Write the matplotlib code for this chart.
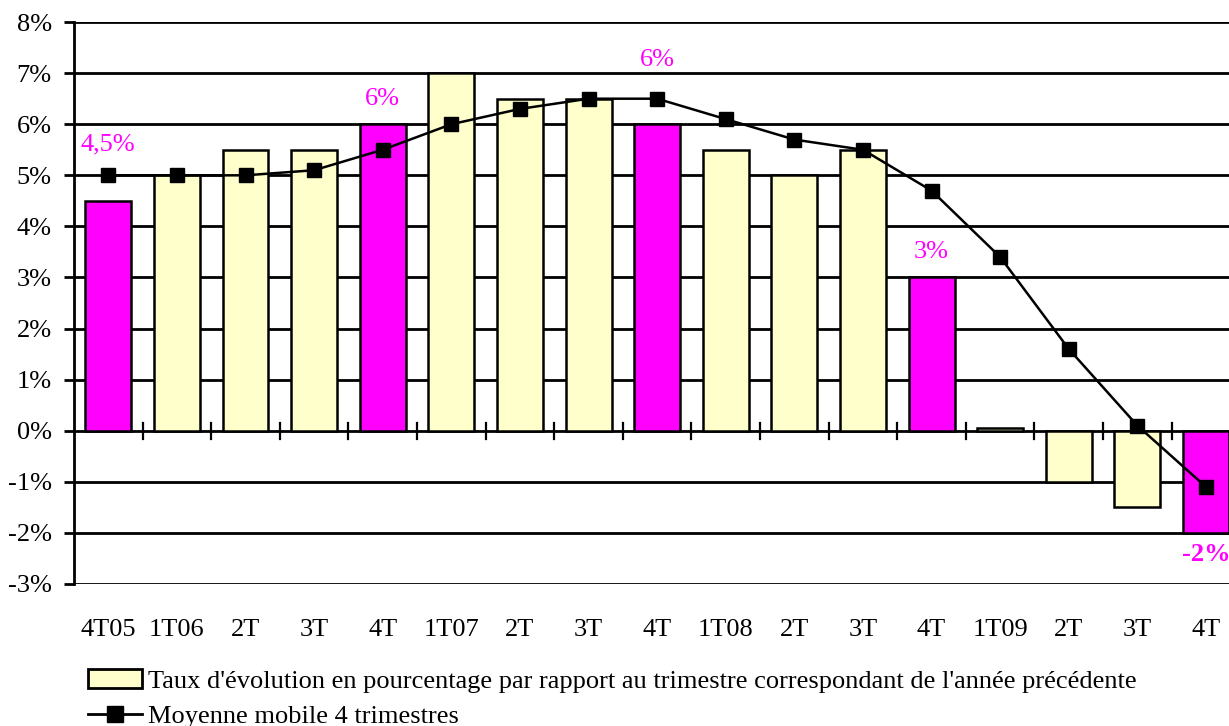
import numpy as np
import matplotlib
matplotlib.use('Agg')
import matplotlib.pyplot as plt
from matplotlib.patches import Patch
from matplotlib.lines import Line2D

plt.rcParams['font.family'] = ['Liberation Serif', 'DejaVu Serif']

# Données
trimestres = ['4T05', '1T06', '2T', '3T', '4T', '1T07', '2T', '3T', '4T',
              '1T08', '2T', '3T', '4T', '1T09', '2T', '3T', '4T']
taux = [4.5, 5.0, 5.5, 5.5, 6.0, 7.0, 6.5, 6.5, 6.0,
        5.5, 5.0, 5.5, 3.0, 0.05, -1.0, -1.5, -2.0]
moyenne = [5.0, 5.0, 5.0, 5.1, 5.5, 6.0, 6.3, 6.5, 6.5,
           6.1, 5.7, 5.5, 4.7, 3.4, 1.6, 0.1, -1.1]
etiquettes = {0: '4,5%', 4: '6%', 8: '6%', 12: '3%', 16: '-2%'}
etiquettes_y = {0: 5.6, 4: 6.5, 8: 7.25, 12: 3.5, 16: -2.43}

jaune = '#FFFFCC'
magenta = '#FF00FF'
fs = 19

x = np.arange(len(trimestres))
couleurs = [magenta if t.startswith('4T') else jaune for t in trimestres]

fig = plt.figure(figsize=(12.29, 7.26), dpi=100)
ax = fig.add_axes([0.0602, 0.1956, 0.949, 0.774])

ax.set_ylim(-3, 8)
ax.set_xlim(-0.5, len(x) - 0.5)
ax.set_yticks(np.arange(-3, 9))
ax.set_yticklabels(['%d%%' % v for v in range(-3, 9)], fontsize=fs)
for v in range(-3, 9):
    ax.axhline(v, color='black', lw=2, zorder=1)

ax.bar(x, taux, width=0.67, color=couleurs, edgecolor='black', lw=1.8, zorder=2)
ax.plot(x, moyenne, color='black', lw=1.8, marker='s', markersize=10, zorder=4)

# petites graduations sur l'axe 0
for b in np.arange(0.5, len(x) - 1, 1.0):
    ax.plot([b, b], [-0.16, 0.16], color='black', lw=1.6, zorder=3)

for i, txt in etiquettes.items():
    poids = 'bold' if taux[i] < 0 else 'normal'
    ax.text(x[i], etiquettes_y[i], txt, color=magenta, fontsize=fs,
            ha='center', va='center', weight=poids)

ax.set_xticks(x)
ax.set_xticklabels(trimestres, fontsize=fs)
ax.tick_params(axis='x', length=0, pad=25)
ax.tick_params(axis='y', length=7, width=2, direction='out', pad=9)
for s in ['top', 'right', 'bottom']:
    ax.spines[s].set_visible(False)
ax.spines['left'].set_linewidth(2)

poignees = [Patch(facecolor=jaune, edgecolor='black', lw=2),
            Line2D([], [], color='black', lw=2, marker='s', markersize=11)]
noms = ["Taux d'évolution en pourcentage par rapport au trimestre correspondant de l'année précédente",
        'Moyenne mobile 4 trimestres']
fig.legend(poignees, noms, loc='upper left', bbox_to_anchor=(0.0716, 0.078),
           frameon=False, fontsize=fs, handlelength=2.05, handletextpad=0.22,
           labelspacing=0.45, borderaxespad=0, borderpad=0)

fig.savefig('out.png', dpi=100)
